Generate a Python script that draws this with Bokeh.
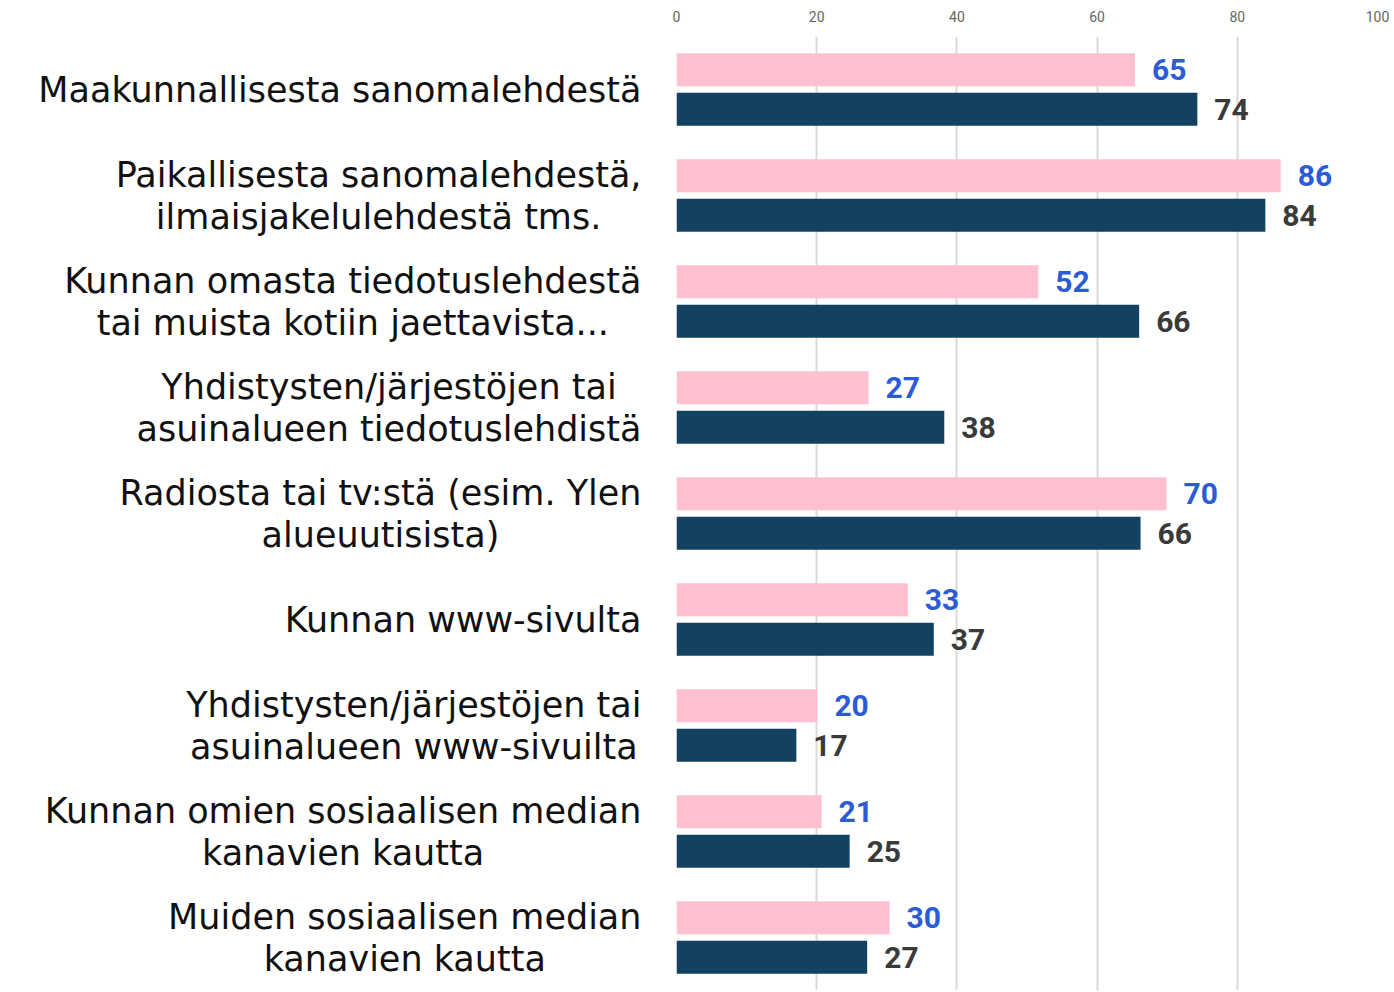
from bokeh.plotting import figure
from bokeh.models import ColumnDataSource, FactorRange, FixedTicker
from bokeh.layouts import row
from bokeh.transform import dodge
from bokeh.core.properties import value
from bokeh.embed import file_html
from bokeh.resources import INLINE

categories = [
    "Maakunnallisesta sanomalehdestä",
    "Paikallisesta sanomalehdestä,\nilmaisjakelulehdestä tms.",
    "Kunnan omasta tiedotuslehdestä\ntai muista kotiin jaettavista...",
    "Yhdistysten/järjestöjen tai\nasuinalueen tiedotuslehdistä",
    "Radiosta tai tv:stä (esim. Ylen\nalueuutisista)",
    "Kunnan www-sivulta",
    "Yhdistysten/järjestöjen tai\nasuinalueen www-sivuilta",
    "Kunnan omien sosiaalisen median\nkanavien kautta",
    "Muiden sosiaalisen median\nkanavien kautta",
]
series_pink = [65.4, 86.2, 51.6, 27.4, 69.9, 33.0, 20.1, 20.7, 30.4]
series_navy = [74.3, 84.0, 66.0, 38.2, 66.2, 36.7, 17.1, 24.7, 27.2]
x_ticks = [0, 20, 40, 60, 80, 100]

src = ColumnDataSource(dict(
    cat=categories,
    pink=series_pink,
    navy=series_navy,
    pink_lbl=[str(round(v)) for v in series_pink],
    navy_lbl=[str(round(v)) for v in series_navy],
    lbl_x=[1.0] * len(categories),
))

yr = FactorRange(factors=categories[::-1])

# left panel: category labels
pl = figure(
    width=666, height=990, y_range=yr, x_range=(0, 1),
    output_backend="svg", toolbar_location=None,
    min_border_left=0, min_border_right=0, min_border_top=36, min_border_bottom=0,
)
pl.text(x="lbl_x", y="cat", text="cat", source=src, x_offset=-25,
        anchor="center_right", text_align="center", text_baseline="middle",
        text_font=value("DejaVu Sans"), text_font_size="35px",
        text_color="#111111", text_line_height=1.05)
pl.axis.visible = False
pl.grid.grid_line_color = None
pl.outline_line_color = None

# right panel: bars
p = figure(
    width=726, height=990, y_range=yr, x_range=(0, 100),
    x_axis_location="above",
    output_backend="svg", toolbar_location=None,
    min_border_left=10, min_border_right=15, min_border_top=36, min_border_bottom=0,
)

p.hbar(y=dodge("cat", 0.186, range=yr), right="pink", left=0, height=0.31,
       source=src, color="#FFC0CF", line_color=None)
p.hbar(y=dodge("cat", -0.186, range=yr), right="navy", left=0, height=0.31,
       source=src, color="#124162", line_color=None)

p.text(x="pink", y=dodge("cat", 0.186, range=yr), text="pink_lbl", source=src,
       x_offset=17, text_align="left", text_baseline="middle",
       text_font=value("Roboto"), text_font_style="bold", text_font_size="30px",
       text_color="#2B5CD6")
p.text(x="navy", y=dodge("cat", -0.186, range=yr), text="navy_lbl", source=src,
       x_offset=17, text_align="left", text_baseline="middle",
       text_font=value("Roboto"), text_font_style="bold", text_font_size="30px",
       text_color="#3A3A3A")

p.xaxis.ticker = FixedTicker(ticks=x_ticks)
p.xaxis.axis_line_color = None
p.xaxis.major_tick_line_color = None
p.xaxis.minor_tick_line_color = None
p.xaxis.major_tick_out = 0
p.xaxis.major_tick_in = 0
p.xaxis.major_label_standoff = 15
p.xaxis.major_label_text_font = "Roboto"
p.xaxis.major_label_text_font_size = "14px"
p.xaxis.major_label_text_color = "#666666"

p.yaxis.visible = False

p.xgrid.grid_line_color = "#DADADA"
p.xgrid.grid_line_width = 2
p.ygrid.grid_line_color = None
p.outline_line_color = None

layout = row(pl, p)
open("out.html", "w").write(file_html(layout, INLINE))
